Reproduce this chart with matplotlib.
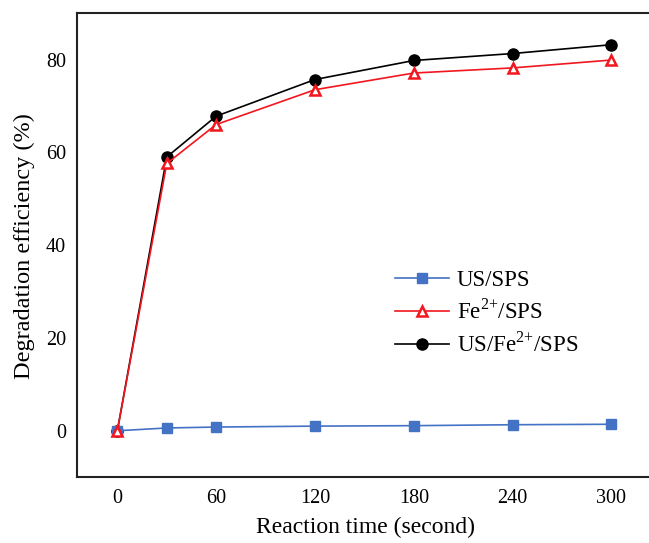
import matplotlib
matplotlib.use("Agg")
import matplotlib.pyplot as plt

plt.rcParams['font.family'] = ['Liberation Serif', 'DejaVu Serif']
plt.rcParams['mathtext.fontset'] = 'custom'
plt.rcParams['mathtext.rm'] = 'Liberation Serif'

time_s = [0, 30, 60, 120, 180, 240, 300]
us_sps = [0.0, 0.6, 0.8, 1.0, 1.1, 1.3, 1.4]
fe_sps = [0.0, 57.6, 66.0, 73.5, 77.1, 78.2, 79.9]
us_fe_sps = [0.0, 59.0, 67.8, 75.7, 79.8, 81.3, 83.2]
xticks = [0, 60, 120, 180, 240, 300]
yticks = [0, 20, 40, 60, 80]
labels = ['US/SPS', r'Fe$^{2{+}}$/SPS', r'US/Fe$^{2{+}}$/SPS']

W, H = 649, 543
fig = plt.figure(figsize=(W / 100, H / 100), dpi=100)
left, right, top, bottom = 77, 649, 12.7, 476.7
ax = fig.add_axes([left / W, 1 - bottom / H, (right - left) / W, (bottom - top) / H])

ax.plot(time_s, us_sps, color='#4472C4', lw=1.2, marker='s', ms=7.5,
        mfc='#4472C4', mec='#4472C4', label=labels[0], zorder=3)
ax.plot(time_s, fe_sps, color='#F2161E', lw=1.2, marker='^', ms=7.5,
        mfc='white', mec='#F2161E', mew=1.8, label=labels[1], zorder=4)
ax.plot(time_s, us_fe_sps, color='black', lw=1.2, marker='o', ms=8,
        mfc='black', mec='black', label=labels[2], zorder=2)

ax.set_xlim(-24.5, 322.8)
ax.set_ylim(-9.9, 90.1)
ax.set_xticks(xticks)
ax.set_yticks(yticks)
ax.tick_params(axis='both', length=0, labelsize=14.5)
ax.tick_params(axis='x', pad=9)
ax.tick_params(axis='y', pad=8)
for s in ['left', 'bottom', 'top']:
    ax.spines[s].set_linewidth(1.5)
    ax.spines[s].set_color('#222222')
ax.spines['right'].set_visible(False)

leg = ax.legend(loc='upper left', bbox_to_anchor=((395 - left) / (right - left), (bottom - 270) / (bottom - top)),
                frameon=False, fontsize=16.5, handlelength=2.35, handletextpad=0.35,
                labelspacing=0.36, borderaxespad=0, borderpad=0)

fig.text(365 / W, 1 - 527 / H, 'Reaction time (second)', ha='center', va='center', fontsize=17)
fig.text(24 / W, 1 - 246 / H, 'Degradation efficiency (%)', ha='center', va='center',
         rotation=90, fontsize=17.5)

fig.savefig('out.png', dpi=100)
